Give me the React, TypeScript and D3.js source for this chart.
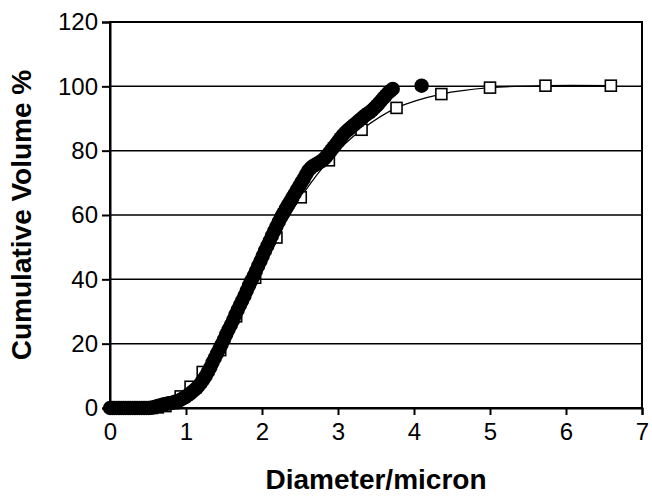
import React, {useRef, useEffect} from "react";
import * as d3 from "d3";

// measured series (filled circles)
const dotX = [
  0.0, 0.03, 0.06, 0.09, 0.12, 0.15, 0.18, 0.21, 0.24, 0.27, 0.3, 0.33, 0.36, 0.39, 0.42,
  0.45, 0.48, 0.51, 0.54, 0.57, 0.6, 0.63, 0.66, 0.69, 0.72, 0.75, 0.78, 0.81, 0.84, 0.87,
  0.9, 0.93, 0.96, 0.99, 1.02, 1.05, 1.08, 1.11, 1.14, 1.17, 1.2, 1.23, 1.26, 1.29, 1.32,
  1.35, 1.38, 1.41, 1.44, 1.47, 1.5, 1.53, 1.56, 1.59, 1.62, 1.65, 1.68, 1.71, 1.74, 1.77,
  1.8, 1.83, 1.86, 1.89, 1.92, 1.95, 1.98, 2.01, 2.04, 2.07, 2.1, 2.13, 2.16, 2.19, 2.22,
  2.25, 2.28, 2.31, 2.34, 2.37, 2.4, 2.43, 2.46, 2.49, 2.52, 2.55, 2.58, 2.61, 2.64, 2.67,
  2.7, 2.73, 2.76, 2.79, 2.82, 2.85, 2.88, 2.91, 2.94, 2.97, 3.0, 3.03, 3.06, 3.09, 3.12,
  3.15, 3.18, 3.21, 3.24, 3.27, 3.3, 3.33, 3.36, 3.39, 3.42, 3.45, 3.48, 3.51, 3.54, 3.57,
  3.6, 3.63, 3.66, 3.69, 3.72, 4.1,
];
const dotY = [
  0, 0, 0, 0, 0, 0, 0, 0, 0, 0, 0, 0, 0, 0, 0,
  0, 0, 0, 0.1, 0.2, 0.4, 0.6, 0.8, 1.0, 1.2, 1.3, 1.5, 1.6, 1.8, 2.0,
  2.2, 2.6, 3.0, 3.4, 3.9, 4.4, 5.0, 5.6, 6.2, 7.0, 7.9, 8.9, 10.0, 11.3, 12.6,
  14.2, 15.6, 17.0, 18.4, 19.8, 21.3, 22.9, 24.4, 25.8, 27.3, 29.0, 30.5, 32.0, 33.4, 34.9,
  36.5, 38.1, 39.6, 41.0, 42.6, 44.2, 45.7, 47.3, 48.9, 50.4, 51.9, 53.5, 55.0, 56.4, 57.9,
  59.3, 60.5, 61.8, 63.0, 64.2, 65.4, 66.6, 67.8, 69.0, 70.2, 71.3, 72.6, 73.8, 74.6, 75.2,
  75.6, 76.0, 76.4, 76.9, 77.5, 78.3, 79.2, 80.1, 81.0, 81.9, 82.8, 83.8, 84.7, 85.5, 86.2,
  86.8, 87.4, 88.0, 88.6, 89.2, 89.8, 90.4, 91.0, 91.5, 92.0, 92.6, 93.3, 94.0, 94.8, 95.6,
  96.4, 97.2, 98.0, 98.6, 99.2, 100.2,
];

// model series (open squares + smooth line)
const boxX = [0.55, 0.63, 0.73, 0.83, 0.93, 1.06, 1.22, 1.45, 1.66, 1.91, 2.19, 2.51, 2.88, 3.31, 3.77, 4.36, 5.0, 5.73, 6.59];
const boxY = [0, 0.2, 0.6, 1.5, 3.6, 6.6, 11.2, 18, 28.5, 40.5, 53, 65.5, 77, 86.5, 93.3, 97.6, 99.6, 100.2, 100.2];

const xTicks = [0, 1, 2, 3, 4, 5, 6, 7];
const yTicks = [0, 20, 40, 60, 80, 100, 120];

const W = 652;
const H = 499;
const margin = {top: 22, right: 10, bottom: 91, left: 110};
const font = "Liberation Sans, Arial, sans-serif";

export default function App() {
  const gRef = useRef<SVGGElement>(null);

  useEffect(() => {
    const g = d3.select(gRef.current);
    g.selectAll("*").remove();

    const width = W - margin.left - margin.right;
    const height = H - margin.top - margin.bottom;

    const x = d3.scaleLinear().domain([0, 7]).range([0, width]);
    const y = d3.scaleLinear().domain([0, 120]).range([height, 0]);

    // gridlines
    g.selectAll(".grid")
      .data(yTicks.filter((t) => t > 0 && t < 120))
      .join("line")
      .attr("x1", 0)
      .attr("x2", width)
      .attr("y1", (d) => y(d))
      .attr("y2", (d) => y(d))
      .attr("stroke", "#000")
      .attr("stroke-width", 1.5);

    // frame
    g.append("rect")
      .attr("width", width)
      .attr("height", height)
      .attr("fill", "none")
      .attr("stroke", "#000")
      .attr("stroke-width", 2);

    // axes
    const xa = g.append("g")
      .attr("transform", `translate(0,${height})`)
      .call(d3.axisBottom(x).tickValues(xTicks).tickSize(7).tickPadding(8).tickFormat(d3.format("d")));
    const ya = g.append("g")
      .call(d3.axisLeft(y).tickValues(yTicks).tickSize(8).tickPadding(4).tickFormat(d3.format("d")));
    [xa, ya].forEach((a) => {
      a.select(".domain").attr("stroke", "#000").attr("stroke-width", 2);
      a.selectAll("line").attr("stroke", "#000").attr("stroke-width", 2);
      a.selectAll("text")
        .attr("fill", "#000")
        .style("font-family", font)
        .style("font-size", "24px");
    });

    // smooth model line
    const boxes = boxX.map((v, i) => [v, boxY[i]]);
    g.append("path")
      .datum(boxes)
      .attr("fill", "none")
      .attr("stroke", "#000")
      .attr("stroke-width", 1.3)
      .attr("d", d3.line().x((d) => x(d[0])).y((d) => y(d[1])).curve(d3.curveCatmullRom.alpha(0.5)));

    const s = 11;
    g.selectAll(".box")
      .data(boxes)
      .join("rect")
      .attr("x", (d) => x(d[0]) - s / 2)
      .attr("y", (d) => y(d[1]) - s / 2)
      .attr("width", s)
      .attr("height", s)
      .attr("fill", "#fff")
      .attr("stroke", "#000")
      .attr("stroke-width", 1.6);

    // measured dots on top
    g.selectAll(".dot")
      .data(dotX.map((v, i) => [v, dotY[i]]))
      .join("circle")
      .attr("cx", (d) => x(d[0]))
      .attr("cy", (d) => y(d[1]))
      .attr("r", 7.2)
      .attr("fill", "#000");

    // titles
    g.append("text")
      .attr("x", width / 2)
      .attr("y", height + 81)
      .attr("text-anchor", "middle")
      .style("font-family", font)
      .style("font-size", "28px")
      .style("font-weight", "bold")
      .text("Diameter/micron");

    g.append("text")
      .attr("transform", "rotate(-90)")
      .attr("x", -height / 2)
      .attr("y", -79)
      .attr("text-anchor", "middle")
      .style("font-family", font)
      .style("font-size", "28px")
      .style("font-weight", "bold")
      .text("Cumulative Volume %");
  }, []);

  return (
    <svg width={W} height={H} style={{position: "absolute", left: 0, top: 0, background: "#fff"}}>
      <g ref={gRef} transform={`translate(${margin.left},${margin.top})`} />
    </svg>
  );
}
